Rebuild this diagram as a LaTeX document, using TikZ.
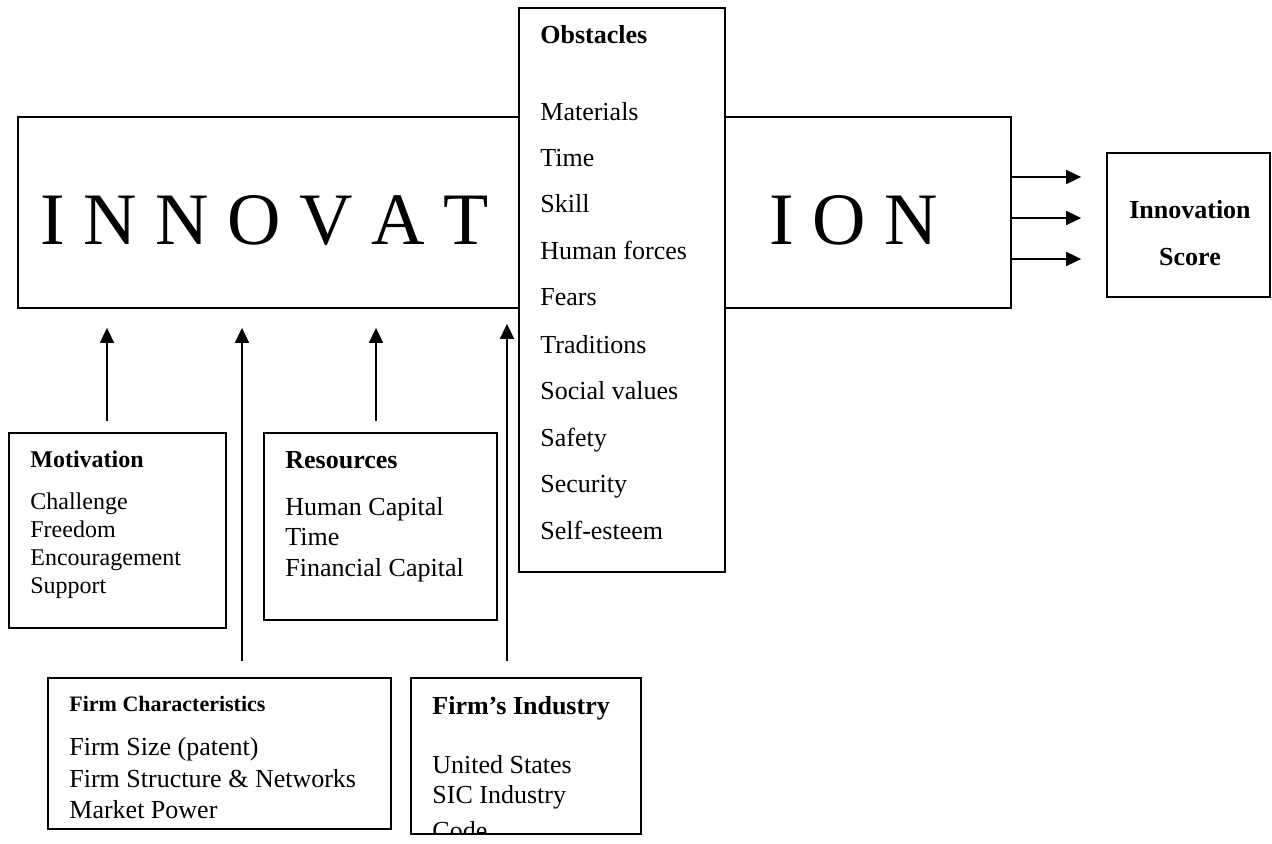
\documentclass[tikz,border=0pt]{standalone}
\usepackage{fontspec}
\setmainfont{Liberation Serif}
\usetikzlibrary{arrows.meta,positioning,fit}

\tikzset{
  frame/.style={draw, line width=0.9pt, inner sep=0pt},
  arr/.style={-{Triangle[length=7.5pt,width=7pt]}, line width=0.85pt},
  txt/.style={anchor=base west, inner sep=0pt},
  big/.style={font=\fontsize{37}{40}\selectfont},
  medium/.style={font=\fontsize{12}{14}\selectfont},
  normal/.style={font=\fontsize{13}{15}\selectfont},
  mediumhead/.style={font=\fontsize{12}{14}\selectfont\bfseries},
  normalhead/.style={font=\fontsize{13}{15}\selectfont\bfseries}
}

\begin{document}
\begin{tikzpicture}[x=0.5pt,y=-0.5pt]

\useasboundingbox (0,0) rectangle (1272,844);

% the INNOVATION box, cut by the obstacles
\node[frame, fit={(18,117) (1011,308)}] (main) {};
\node[txt, big] (innov) at (40,245) {I N N O V A T};
\node[txt, big] (ion) at (769,245) {I O N};

\node[frame, fill=white, fit={(519,8) (725,572)}] (obst) {};
\node[txt, normalhead] (obsthead) at (540,44) {Obstacles};
\foreach \y/\item [count=\i] in {
  121/Materials,
  167/Time,
  213/Skill,
  260/Human forces,
  306/Fears,
  353/Traditions,
  399/Social values,
  446/Safety,
  492/Security,
  539/Self-esteem}
    \node[txt, normal] (obst\i) at (540,\y) {\item};

% score
\node[frame, fit={(1107,153) (1270,297)}] (score) {};
\node[anchor=base, inner sep=0pt, normalhead] (scorea) at (1190,219) {Innovation};
\node[anchor=base, inner sep=0pt, normalhead] (scoreb) at (1190,266) {Score};

\foreach \dy in {17.75,-2.75,-23.25}
    \draw[arr, shorten >=12.5pt] ([yshift=\dy pt]main.east) -- ([yshift=\dy pt]main.east -| score.west);

% motivation
\node[frame, fit={(9,433) (226,628)}] (motiv) {};
\node[txt, mediumhead] (motivhead) at (30,467) {Motivation};
\foreach \y/\item [count=\i] in {509/Challenge, 537/Freedom, 565/Encouragement, 593/Support}
    \node[txt, medium] (motiv\i) at (30,\y) {\item};

% resources
\node[frame, fit={(264,433) (497,620)}] (res) {};
\node[txt, normalhead] (reshead) at (285,468) {Resources};
\foreach \y/\item [count=\i] in {515/Human Capital, 545/Time, 576/Financial Capital}
    \node[txt, normal] (res\i) at (285,\y) {\item};

% firm characteristics
\node[frame, fit={(48,678) (391,829)}] (firmchar) {};
\node[txt, font=\fontsize{11}{13}\selectfont\bfseries] (firmcharhead) at (69,711) {Firm Characteristics};
\foreach \y/\item [count=\i] in {755/Firm Size (patent), 787/Firm Structure \& Networks, 818/Market Power}
    \node[txt, normal] (firmchar\i) at (69,\y) {\item};

% firm's industry
\node[frame, fit={(411,678) (641,834)}] (firmind) {};
\node[txt, normalhead] (firmindhead) at (432,714) {Firm's Industry};
\begin{scope}
  \clip (412,679) rectangle (640,832);
  \foreach \y/\item [count=\i] in {773/United States, 803/SIC Industry, 839/Code}
      \node[txt, normal] (firmind\i) at (432,\y) {\item};
\end{scope}

% arrows into the INNOVATION box
\draw[arr, shorten <=5.5pt, shorten >=9.5pt] ([xshift=-5.25pt]motiv.north) -- ([xshift=-5.25pt]motiv.north |- main.south);
\draw[arr, shorten <=8pt, shorten >=9.5pt] ([xshift=11.25pt]firmchar.north) -- ([xshift=11.25pt]firmchar.north |- main.south);
\draw[arr, shorten <=5.5pt, shorten >=9.5pt] ([xshift=-2.25pt]res.north) -- ([xshift=-2.25pt]res.north |- main.south);
\draw[arr, shorten <=8pt, shorten >=7.5pt] ([xshift=-9.5pt]firmind.north) -- ([xshift=-9.5pt]firmind.north |- main.south);

\end{tikzpicture}
\end{document}
